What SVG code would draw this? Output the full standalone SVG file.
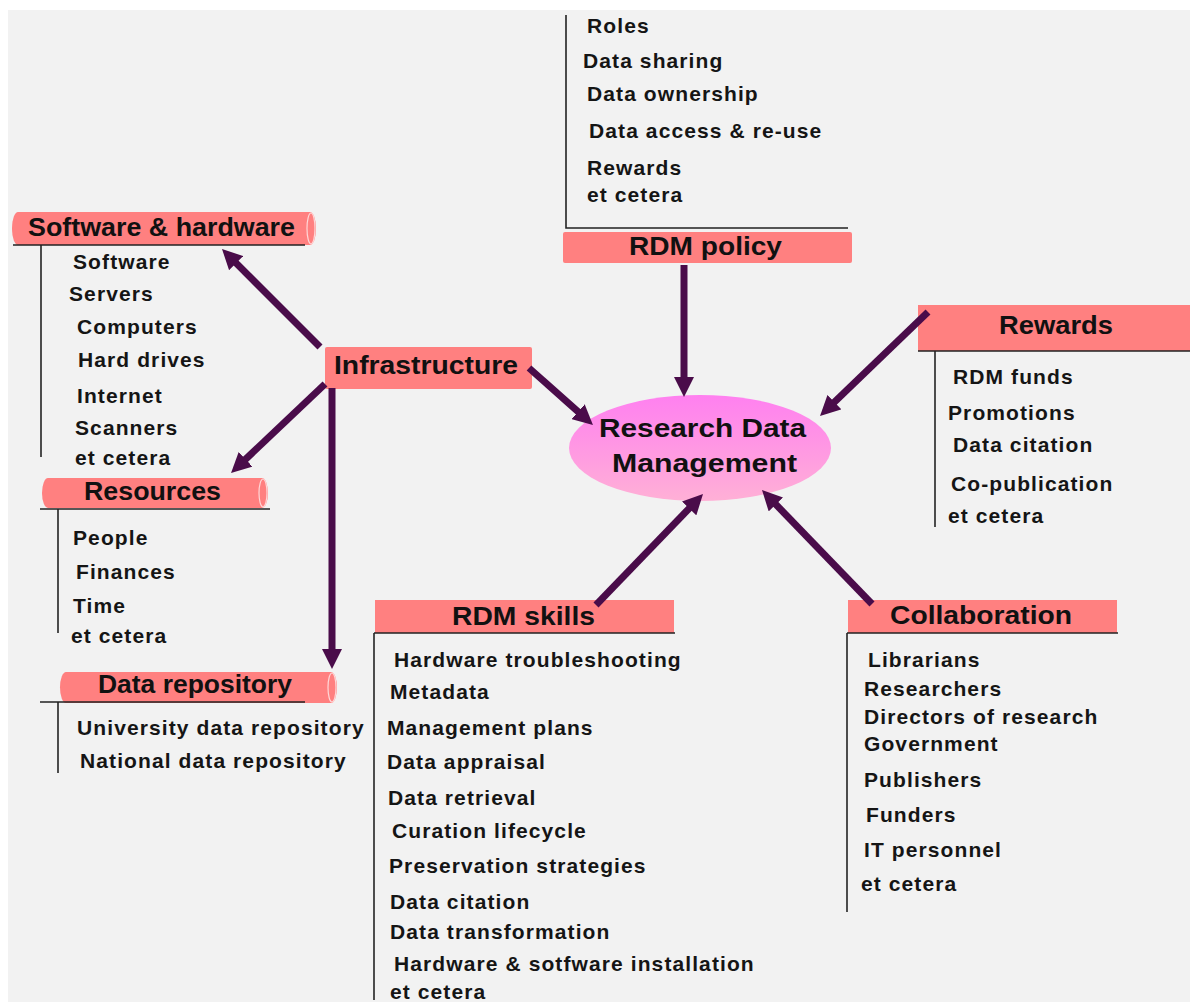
<svg xmlns="http://www.w3.org/2000/svg" width="1190" height="1005" viewBox="0 0 1190 1005">
  <defs>
    <linearGradient id="hubFill" x1="0" y1="0" x2="0" y2="1">
      <stop offset="0" stop-color="#ff80f0"/>
      <stop offset="1" stop-color="#ffb0d6"/>
    </linearGradient>
    <marker id="head" viewBox="0 0 20 20" refX="6" refY="10" markerWidth="20" markerHeight="20" markerUnits="userSpaceOnUse" orient="auto">
      <path d="M0,0 L20,10 L0,20 z" fill="#4a0c4a"/>
    </marker>
    <style>
      .hdr { font-family: "Liberation Sans", Arial, sans-serif; font-weight: bold; font-size: 25px; fill: #111; }
      .item { font-family: "Liberation Sans", Arial, sans-serif; font-weight: bold; font-size: 21px; letter-spacing: 1.1px; fill: #151515; }
      .box { fill: #ff8080; }
      .scroll { fill: #ff8080; }
      .scrollEnd { fill: none; stroke: #ffd6d6; stroke-width: 1.2; }
      .bracket { fill: none; stroke: #222; stroke-width: 1.6; }
      .arrow { fill: none; stroke: #4a0c4a; stroke-width: 7; marker-end: url(#head); }
    </style>
  </defs>

  <rect x="0" y="0" width="1190" height="1005" fill="#ffffff"/>
  <rect x="8" y="10" width="1182" height="992" fill="#f2f2f2"/>

  <!-- central hub -->
  <g id="hub">
    <ellipse cx="700" cy="448" rx="131" ry="53" fill="url(#hubFill)"/>
    <text class="hdr" x="599" y="437" textLength="207" lengthAdjust="spacingAndGlyphs">Research Data</text>
    <text class="hdr" x="612" y="472" textLength="185" lengthAdjust="spacingAndGlyphs">Management</text>
  </g>

  <!-- infrastructure -->
  <g id="infrastructure">
    <rect class="box" x="325" y="347" width="207" height="42" rx="2"/>
    <text class="hdr" x="334" y="374" textLength="184" lengthAdjust="spacingAndGlyphs">Infrastructure</text>
  </g>

  <!-- software & hardware -->
  <g id="software-hardware">
    <rect class="scroll" x="12" y="212" width="304" height="33" rx="6" ry="16"/>
    <ellipse class="scrollEnd" cx="311" cy="228.5" rx="4" ry="15.5"/>
    <text class="hdr" x="28" y="236" textLength="267" lengthAdjust="spacingAndGlyphs">Software &amp; hardware</text>
    <line class="bracket" x1="13" y1="245" x2="305" y2="245"/>
    <line class="bracket" x1="41" y1="245" x2="41" y2="457"/>
    <text class="item" x="73" y="269">Software</text>
    <text class="item" x="69" y="301">Servers</text>
    <text class="item" x="77" y="334">Computers</text>
    <text class="item" x="78" y="367">Hard drives</text>
    <text class="item" x="77" y="403">Internet</text>
    <text class="item" x="75" y="435">Scanners</text>
    <text class="item" x="75" y="465">et cetera</text>
  </g>

  <!-- resources -->
  <g id="resources">
    <rect class="scroll" x="42" y="478" width="226" height="30" rx="6" ry="15"/>
    <ellipse class="scrollEnd" cx="263" cy="493" rx="4" ry="14"/>
    <text class="hdr" x="84" y="500" textLength="137" lengthAdjust="spacingAndGlyphs">Resources</text>
    <line class="bracket" x1="40" y1="509" x2="270" y2="509"/>
    <line class="bracket" x1="58" y1="509" x2="58" y2="633"/>
    <text class="item" x="73" y="545">People</text>
    <text class="item" x="76" y="579">Finances</text>
    <text class="item" x="73" y="613">Time</text>
    <text class="item" x="71" y="643">et cetera</text>
  </g>

  <!-- data repository -->
  <g id="data-repository">
    <rect class="scroll" x="60" y="672" width="277" height="31" rx="6" ry="15.5"/>
    <ellipse class="scrollEnd" cx="332" cy="687.5" rx="4" ry="14.5"/>
    <text class="hdr" x="98" y="693" textLength="194" lengthAdjust="spacingAndGlyphs">Data repository</text>
    <line class="bracket" x1="40" y1="702" x2="305" y2="702"/>
    <line class="bracket" x1="58" y1="702" x2="58" y2="773"/>
    <text class="item" x="77" y="735">University data repository</text>
    <text class="item" x="80" y="768">National data repository</text>
  </g>

  <!-- RDM policy -->
  <g id="rdm-policy">
    <polyline class="bracket" points="566,15 566,228 848,228"/>
    <text class="item" x="587" y="33">Roles</text>
    <text class="item" x="583" y="68">Data sharing</text>
    <text class="item" x="587" y="101">Data ownership</text>
    <text class="item" x="589" y="138">Data access &amp; re-use</text>
    <text class="item" x="587" y="175">Rewards</text>
    <text class="item" x="587" y="202">et cetera</text>
    <rect class="box" x="563" y="232" width="289" height="31" rx="2"/>
    <text class="hdr" x="629" y="255" textLength="153" lengthAdjust="spacingAndGlyphs">RDM policy</text>
  </g>

  <!-- rewards -->
  <g id="rewards">
    <rect class="box" x="918" y="305" width="272" height="46"/>
    <text class="hdr" x="999" y="334" textLength="114" lengthAdjust="spacingAndGlyphs">Rewards</text>
    <line class="bracket" x1="918" y1="351" x2="1190" y2="351"/>
    <line class="bracket" x1="935" y1="351" x2="935" y2="527"/>
    <text class="item" x="953" y="384">RDM funds</text>
    <text class="item" x="948" y="420">Promotions</text>
    <text class="item" x="953" y="452">Data citation</text>
    <text class="item" x="951" y="491">Co-publication</text>
    <text class="item" x="948" y="523">et cetera</text>
  </g>

  <!-- RDM skills -->
  <g id="rdm-skills">
    <rect class="box" x="375" y="600" width="299" height="33"/>
    <text class="hdr" x="452" y="625" textLength="143" lengthAdjust="spacingAndGlyphs">RDM skills</text>
    <line class="bracket" x1="374" y1="633" x2="675" y2="633"/>
    <line class="bracket" x1="374" y1="633" x2="374" y2="1000"/>
    <text class="item" x="394" y="667">Hardware troubleshooting</text>
    <text class="item" x="390" y="699">Metadata</text>
    <text class="item" x="387" y="735">Management plans</text>
    <text class="item" x="387" y="769">Data appraisal</text>
    <text class="item" x="388" y="805">Data retrieval</text>
    <text class="item" x="392" y="838">Curation lifecycle</text>
    <text class="item" x="389" y="873">Preservation strategies</text>
    <text class="item" x="390" y="909">Data citation</text>
    <text class="item" x="390" y="939">Data transformation</text>
    <text class="item" x="394" y="971">Hardware &amp; sotfware installation</text>
    <text class="item" x="390" y="999">et cetera</text>
  </g>

  <!-- collaboration -->
  <g id="collaboration">
    <rect class="box" x="848" y="600" width="269" height="33"/>
    <text class="hdr" x="890" y="624" textLength="182" lengthAdjust="spacingAndGlyphs">Collaboration</text>
    <line class="bracket" x1="847" y1="633" x2="1118" y2="633"/>
    <line class="bracket" x1="847" y1="633" x2="847" y2="912"/>
    <text class="item" x="868" y="667">Librarians</text>
    <text class="item" x="864" y="696">Researchers</text>
    <text class="item" x="864" y="724">Directors of research</text>
    <text class="item" x="864" y="751">Government</text>
    <text class="item" x="864" y="787">Publishers</text>
    <text class="item" x="866" y="822">Funders</text>
    <text class="item" x="864" y="857">IT personnel</text>
    <text class="item" x="861" y="891">et cetera</text>
  </g>

  <!-- connectors, drawn over the box corners they leave from -->
  <g id="connectors">
    <line class="arrow" x1="320" y1="347" x2="231.9" y2="258.9"/>
    <line class="arrow" x1="325" y1="384" x2="241.2" y2="463.4"/>
    <line class="arrow" x1="332" y1="388" x2="332" y2="655"/>
    <line class="arrow" x1="529" y1="368" x2="582.5" y2="415.7"/>
    <line class="arrow" x1="684" y1="265" x2="684" y2="383"/>
    <line class="arrow" x1="928" y1="312" x2="830.1" y2="406.3"/>
    <line class="arrow" x1="596" y1="605" x2="693.3" y2="504.1"/>
    <line class="arrow" x1="872" y1="604" x2="771.7" y2="500.1"/>
  </g>
</svg>
